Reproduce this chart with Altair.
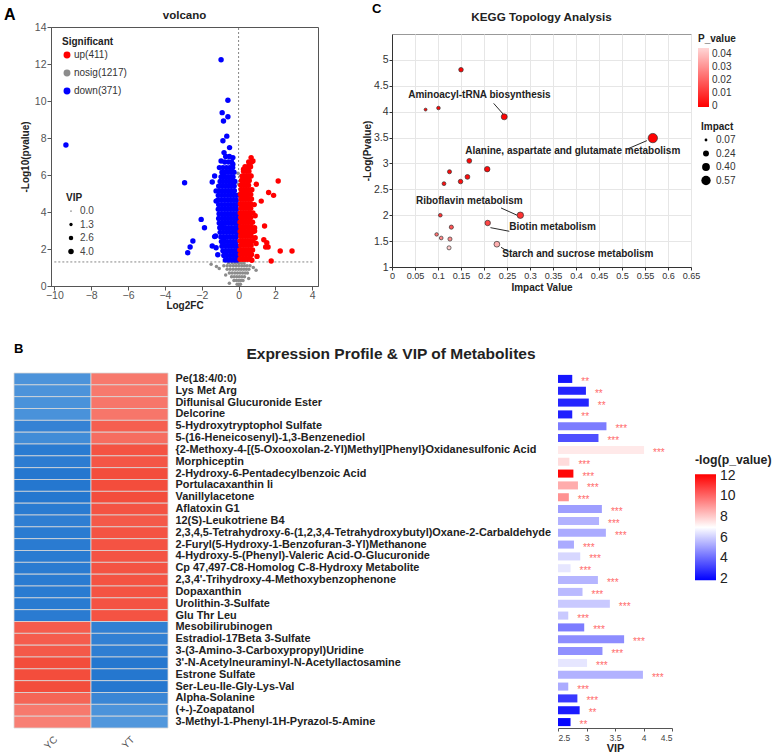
import altair as alt
import pandas as pd

FONT = "Liberation Sans"
INK = "#222222"

# ============ A: volcano plot ============
up_label, nosig_label, down_label = "up(411)", "nosig(1217)", "down(371)"

up_points = [
    (0.08, 1.45), (0.22, 1.45), (0.36, 1.45), (0.50, 1.45), (0.64, 1.45),
    (0.10, 1.70), (0.25, 1.70), (0.40, 1.70), (0.55, 1.70), (0.70, 1.70),
    (0.07, 1.95), (0.20, 1.95), (0.34, 1.95), (0.48, 1.95), (0.62, 1.95), (0.76, 1.95),
    (0.12, 2.20), (0.26, 2.20), (0.40, 2.20), (0.54, 2.20), (0.68, 2.20),
    (0.08, 2.45), (0.22, 2.45), (0.36, 2.45), (0.50, 2.45), (0.64, 2.45), (0.78, 2.45),
    (0.12, 2.70), (0.26, 2.70), (0.40, 2.70), (0.54, 2.70), (0.68, 2.70),
    (0.09, 2.95), (0.23, 2.95), (0.37, 2.95), (0.51, 2.95), (0.65, 2.95), (0.80, 2.95),
    (0.12, 3.20), (0.26, 3.20), (0.40, 3.20), (0.54, 3.20), (0.68, 3.20),
    (0.08, 3.45), (0.22, 3.45), (0.36, 3.45), (0.50, 3.45), (0.64, 3.45), (0.76, 3.45),
    (0.12, 3.70), (0.26, 3.70), (0.40, 3.70), (0.54, 3.70), (0.66, 3.70),
    (0.09, 3.95), (0.23, 3.95), (0.37, 3.95), (0.51, 3.95), (0.64, 3.95), (0.78, 3.95),
    (0.12, 4.20), (0.26, 4.20), (0.40, 4.20), (0.54, 4.20), (0.66, 4.20),
    (0.10, 4.45), (0.24, 4.45), (0.38, 4.45), (0.52, 4.45), (0.65, 4.45),
    (0.13, 4.70), (0.27, 4.70), (0.41, 4.70), (0.55, 4.70), (0.70, 4.70),
    (0.10, 4.95), (0.24, 4.95), (0.38, 4.95), (0.52, 4.95), (0.66, 4.95),
    (0.14, 5.20), (0.28, 5.20), (0.42, 5.20), (0.56, 5.20), (0.72, 5.20),
    (0.12, 5.45), (0.26, 5.45), (0.40, 5.45), (0.54, 5.45),
    (0.16, 5.70), (0.30, 5.70), (0.44, 5.70), (0.58, 5.70),
    (0.20, 5.95), (0.34, 5.95), (0.48, 5.95), (0.62, 5.95),
    (0.27, 6.20), (0.42, 6.20), (0.56, 6.20),
    (0.35, 6.45), (0.50, 6.45), (0.65, 6.45),
    (0.55, 6.70), (0.70, 6.70),
    # scattered up-regulated features
    (0.68, 6.94), (0.78, 6.76), (0.60, 6.58), (0.50, 6.40), (0.27, 6.31),
    (0.68, 5.95), (0.96, 5.50), (2.15, 5.68), (1.63, 5.05), (1.90, 4.90),
    (1.23, 4.59), (1.41, 3.24), (0.87, 2.97), (0.90, 2.61), (1.37, 2.50),
    (1.53, 2.34), (1.47, 2.11), (1.60, 2.11), (2.26, 1.89), (2.90, 1.89),
    (1.77, 1.35), (0.72, 1.39), (0.87, 3.15), (0.85, 4.40), (0.90, 3.80),
    (0.95, 2.30), (1.00, 1.60),
]

down_points = [
    (-0.72, 1.40), (-0.55, 1.40), (-0.38, 1.40), (-0.22, 1.40), (-0.08, 1.40),
    (-0.80, 1.65), (-0.62, 1.65), (-0.45, 1.65), (-0.28, 1.65), (-0.12, 1.65),
    (-0.85, 1.90), (-0.68, 1.90), (-0.50, 1.90), (-0.33, 1.90), (-0.17, 1.90), (-0.05, 1.90),
    (-0.90, 2.15), (-0.72, 2.15), (-0.56, 2.15), (-0.40, 2.15), (-0.24, 2.15), (-0.09, 2.15),
    (-0.93, 2.40), (-0.77, 2.40), (-0.60, 2.40), (-0.44, 2.40), (-0.28, 2.40), (-0.12, 2.40),
    (-0.96, 2.65), (-0.80, 2.65), (-0.63, 2.65), (-0.46, 2.65), (-0.30, 2.65), (-0.14, 2.65),
    (-1.00, 2.90), (-0.83, 2.90), (-0.66, 2.90), (-0.50, 2.90), (-0.33, 2.90), (-0.17, 2.90), (-0.06, 2.90),
    (-1.02, 3.15), (-0.86, 3.15), (-0.70, 3.15), (-0.53, 3.15), (-0.37, 3.15), (-0.20, 3.15), (-0.07, 3.15),
    (-1.05, 3.40), (-0.88, 3.40), (-0.72, 3.40), (-0.55, 3.40), (-0.39, 3.40), (-0.23, 3.40), (-0.09, 3.40),
    (-1.08, 3.65), (-0.90, 3.65), (-0.74, 3.65), (-0.58, 3.65), (-0.42, 3.65), (-0.26, 3.65), (-0.10, 3.65),
    (-1.06, 3.90), (-0.89, 3.90), (-0.72, 3.90), (-0.56, 3.90), (-0.40, 3.90), (-0.24, 3.90), (-0.08, 3.90),
    (-1.10, 4.15), (-0.93, 4.15), (-0.76, 4.15), (-0.60, 4.15), (-0.44, 4.15), (-0.28, 4.15), (-0.12, 4.15),
    (-1.08, 4.40), (-0.91, 4.40), (-0.74, 4.40), (-0.57, 4.40), (-0.41, 4.40), (-0.25, 4.40), (-0.10, 4.40),
    (-1.12, 4.65), (-0.95, 4.65), (-0.78, 4.65), (-0.61, 4.65), (-0.45, 4.65), (-0.29, 4.65), (-0.13, 4.65),
    (-1.10, 4.90), (-0.92, 4.90), (-0.75, 4.90), (-0.58, 4.90), (-0.42, 4.90), (-0.26, 4.90), (-0.11, 4.90),
    (-1.05, 5.15), (-0.88, 5.15), (-0.71, 5.15), (-0.55, 5.15), (-0.39, 5.15), (-0.23, 5.15),
    (-1.08, 5.40), (-0.90, 5.40), (-0.73, 5.40), (-0.56, 5.40), (-0.40, 5.40), (-0.24, 5.40),
    (-1.00, 5.65), (-0.84, 5.65), (-0.67, 5.65), (-0.51, 5.65), (-0.35, 5.65), (-0.20, 5.65),
    (-0.95, 5.90), (-0.78, 5.90), (-0.62, 5.90), (-0.46, 5.90), (-0.30, 5.90),
    (-0.90, 6.15), (-0.72, 6.15), (-0.56, 6.15), (-0.40, 6.15), (-0.25, 6.15),
    (-0.85, 6.40), (-0.66, 6.40), (-0.48, 6.40), (-0.32, 6.40),
    (-0.75, 6.70), (-0.55, 6.70), (-0.38, 6.70),
    (-0.70, 7.00), (-0.50, 7.00),
    # scattered down-regulated features
    (-0.95, 12.23), (-0.58, 10.04), (-0.89, 9.37), (-0.58, 9.15), (-0.82, 8.92),
    (-9.37, 7.62), (-0.64, 8.10), (-0.85, 7.85), (-0.49, 7.48), (-0.79, 7.21),
    (-0.31, 6.94), (-0.95, 6.76), (-1.04, 6.40), (-0.31, 6.58), (-0.85, 6.04),
    (-1.30, 5.95), (-2.93, 5.58), (-1.43, 5.62), (-1.22, 5.14), (-1.22, 4.59),
    (-2.03, 3.60), (-1.85, 3.15), (-2.48, 2.43), (-2.63, 2.11), (-2.76, 1.80),
    (-0.95, 3.24), (-1.30, 2.67), (-1.25, 2.70), (-1.43, 2.16), (-1.22, 2.07),
    (-1.13, 1.69), (-0.89, 3.30), (-0.79, 2.43), (-0.73, 1.69),
]

nosig_points = [
    (-0.08, 0.10), (0.02, 0.10), (0.10, 0.10),
    (-0.25, 0.30), (-0.12, 0.30), (0.00, 0.30), (0.12, 0.30), (0.24, 0.30),
    (-0.38, 0.50), (-0.24, 0.50), (-0.10, 0.50), (0.04, 0.50), (0.18, 0.50), (0.32, 0.50),
    (-0.50, 0.70), (-0.35, 0.70), (-0.20, 0.70), (-0.06, 0.70), (0.08, 0.70), (0.22, 0.70), (0.36, 0.70), (0.48, 0.70),
    (-0.62, 0.90), (-0.46, 0.90), (-0.30, 0.90), (-0.15, 0.90), (0.00, 0.90), (0.14, 0.90), (0.28, 0.90), (0.42, 0.90), (0.56, 0.90),
    (-0.80, 1.10), (-0.62, 1.10), (-0.45, 1.10), (-0.28, 1.10), (-0.12, 1.10), (0.03, 1.10), (0.18, 1.10), (0.32, 1.10), (0.46, 1.10), (0.62, 1.10),
    (-0.55, 1.25), (-0.35, 1.25), (-0.18, 1.25), (0.00, 1.25), (0.15, 1.25), (0.30, 1.25),
    (-1.49, 1.17), (-1.05, 0.95), (-1.20, 1.05), (0.80, 1.00), (0.95, 0.85),
    (-0.50, 0.15), (0.55, 0.40), (-0.70, 0.60),
    (0.00, 1.60), (0.02, 2.10), (-0.02, 2.70), (0.03, 3.30), (0.00, 3.90),
    (-0.02, 4.50), (0.02, 5.00), (0.00, 5.50), (0.10, 5.95), (-0.03, 6.10),
]

up_vip, down_vip, nosig_vip = 3.9, 3.9, 1.5
vip_legend_values = [0.0, 1.3, 2.6, 4.0]
p_cut = 1.3  # -log10(0.05)

volcano_rows = []
for label, pts, vip in [(nosig_label, nosig_points, nosig_vip),
                        (down_label, down_points, down_vip),
                        (up_label, up_points, up_vip)]:
    for fc, lp in pts:
        volcano_rows.append({"group": label, "log2fc": fc, "logp": lp, "vip": vip})
volcano_df = pd.DataFrame(volcano_rows)

xs_a = alt.Scale(domain=[-10.18, 4.31], nice=False, zero=False)
ys_a = alt.Scale(domain=[0, 14], nice=False, zero=False)

axis_a = dict(grid=False, labelFontSize=10.5, labelColor="#555555", tickColor="#555555",
              domainColor="#555555", tickSize=4, titleFontSize=10, titleFontWeight="bold",
              titleColor=INK)
x_axis_a = alt.Axis(title="Log2FC", values=[-10, -8, -6, -4, -2, 0, 2, 4],
                    labelPadding=0, titlePadding=0, **axis_a)
y_axis_a = alt.Axis(title="-Log10(pvalue)", values=[0, 2, 4, 6, 8, 10, 12, 14],
                    labelPadding=1, titlePadding=4, **axis_a)

cut_h = alt.Chart(pd.DataFrame({"y": [p_cut], "x": [-10], "x2": [4]})).mark_rule(
    strokeDash=[2, 2], color="#777777", strokeWidth=0.9
).encode(x=alt.X("x:Q", scale=xs_a, axis=x_axis_a), x2="x2:Q",
         y=alt.Y("y:Q", scale=ys_a, axis=y_axis_a))

cut_v = alt.Chart(pd.DataFrame({"x": [0], "y": [0], "y2": [14]})).mark_rule(
    strokeDash=[2, 2], color="#777777", strokeWidth=0.9
).encode(x=alt.X("x:Q", scale=xs_a, axis=x_axis_a),
         y=alt.Y("y:Q", scale=ys_a, axis=y_axis_a), y2="y2:Q")

dots = alt.Chart(volcano_df).mark_circle(opacity=1).encode(
    x=alt.X("log2fc:Q", scale=xs_a, axis=x_axis_a),
    y=alt.Y("logp:Q", scale=ys_a, axis=y_axis_a),
    color=alt.Color("group:N",
                    scale=alt.Scale(domain=[up_label, nosig_label, down_label],
                                    range=["#ff0000", "#8c8c8c", "#0000ff"]),
                    legend=alt.Legend(title="Significant", orient="none", legendX=11, legendY=10,
                                      titleFontSize=10, titleFontWeight="bold", titleColor=INK,
                                      labelFontSize=10, labelColor="#333333", symbolType="circle",
                                      symbolSize=48, symbolOpacity=1, symbolStrokeWidth=0,
                                      rowPadding=8, labelOffset=2, titlePadding=3, padding=0)),
    size=alt.Size("vip:Q", scale=alt.Scale(domain=[0, 4], range=[1.5, 30], zero=False),
                  legend=alt.Legend(title="VIP", orient="none", legendX=15, legendY=166,
                                    values=vip_legend_values, format=".1f",
                                    titleFontSize=10, titleFontWeight="bold", titleColor=INK,
                                    labelFontSize=10, labelColor="#444444", symbolType="circle",
                                    symbolFillColor="#000000", symbolStrokeColor="#000000",
                                    symbolStrokeWidth=0, symbolOpacity=1,
                                    rowPadding=3.5, labelOffset=4, titlePadding=3, padding=0)),
)


def caption(text, x, y, size, align="left", color="#000000"):
    return alt.Chart(pd.DataFrame({"caption": [text]})).mark_text(
        align=align, baseline="alphabetic", fontSize=size, fontWeight="bold", color=color
    ).encode(text="caption:N", x=alt.value(x), y=alt.value(y))


volcano = alt.layer(
    cut_h, cut_v, dots, caption("volcano", 133.5, -8, 11.5, align="center", color=INK)
).properties(width=267, height=259, view=alt.ViewBackground(stroke="#555555", strokeWidth=1))

# small cell carrying the panel letter, left of the volcano plot
letter_a = caption("A", -10, -7, 16).properties(
    width=1, height=1, view=alt.ViewBackground(stroke=None))

# ============ C: KEGG topology bubbles ============
kegg_impact = [0.150, 0.073, 0.101, 0.244, 0.567, 0.168, 0.207, 0.125, 0.164, 0.149,
               0.113, 0.279, 0.105, 0.208, 0.129, 0.097, 0.107, 0.126, 0.124, 0.228]
kegg_neglogp = [4.81, 4.04, 4.07, 3.90, 3.49, 3.05, 2.89, 2.84, 2.74, 2.65,
                2.61, 2.00, 2.00, 1.85, 1.77, 1.63, 1.56, 1.54, 1.37, 1.44]
kegg_x_ticks = [0, 0.05, 0.1, 0.15, 0.2, 0.25, 0.3, 0.35, 0.4, 0.45, 0.5, 0.55, 0.6, 0.65]
kegg_y_ticks = [1, 1.5, 2, 2.5, 3, 3.5, 4, 4.5, 5]
impact_legend_values = [0.07, 0.24, 0.40, 0.57]
pvalue_legend_values = [0, 0.01, 0.02, 0.03, 0.04]

pathway_names = ["Aminoacyl-tRNA biosynthesis",
                 "Alanine, aspartate and glutamate metabolism",
                 "Riboflavin metabolism",
                 "Biotin metabolism",
                 "Starch and sucrose metabolism"]
pathway_label_x = [0.190, 0.393, 0.168, 0.349, 0.404]
pathway_label_y = [4.33, 3.25, 2.27, 1.77, 1.25]
leader_x1 = [0.221, 0.512, 0.237, 0.214, 0.237]
leader_y1 = [4.16, 3.28, 2.14, 1.76, 1.38]
leader_x2 = [0.243, 0.554, 0.272, 0.255, 0.254]
leader_y2 = [3.94, 3.44, 2.00, 1.69, 1.29]

kegg_df = pd.DataFrame({"impact": kegg_impact, "neglogp": kegg_neglogp})
kegg_df["p_value"] = 10 ** (-kegg_df["neglogp"])

xs_c = alt.Scale(domain=[0, 0.65], nice=False, zero=False)
ys_c = alt.Scale(domain=[1, 5.5], nice=False, zero=False)

axis_c = dict(grid=True, gridColor="#e6e6e6", labelColor="#333333",
              tickColor="#333333", domainColor="#333333", tickSize=3, format="~g",
              titleFontSize=10, titleFontWeight="bold", titleColor=INK,
              labelPadding=1, labelOverlap=False, labelFlush=False)
x_axis_c = alt.Axis(title="Impact Value", values=kegg_x_ticks, labelFontSize=9.1,
                    titlePadding=2, **axis_c)
y_axis_c = alt.Axis(title="-Log(Pvalue)", values=kegg_y_ticks, labelFontSize=10.5,
                    titlePadding=1, **axis_c)

bubbles = alt.Chart(kegg_df).mark_circle(opacity=1, stroke="#333333", strokeWidth=0.7).encode(
    x=alt.X("impact:Q", scale=xs_c, axis=x_axis_c),
    y=alt.Y("neglogp:Q", scale=ys_c, axis=y_axis_c),
    color=alt.Color("p_value:Q",
                    scale=alt.Scale(domain=[-0.0006, 0.0444], range=["#ff0000", "#ffd6d6"],
                                    interpolate="rgb"),
                    legend=alt.Legend(title="P_value", orient="none", legendX=306, legendY=0,
                                      direction="vertical", values=pvalue_legend_values, format="~g",
                                      gradientLength=59, gradientThickness=11,
                                      titleFontSize=10, titleFontWeight="bold", titleColor=INK,
                                      labelFontSize=10, labelColor="#333333", labelOffset=3,
                                      titlePadding=4, padding=0)),
    size=alt.Size("impact:Q", scale=alt.Scale(domain=[0.07, 0.57], range=[8, 88], zero=False),
                  legend=alt.Legend(title="Impact", orient="none", legendX=309, legendY=88,
                                    values=impact_legend_values, format=".2f",
                                    titleFontSize=10, titleFontWeight="bold", titleColor=INK,
                                    labelFontSize=10, labelColor="#333333", symbolType="circle",
                                    symbolFillColor="#000000", symbolStrokeColor="#000000",
                                    symbolStrokeWidth=0, symbolOpacity=1,
                                    rowPadding=3.5, labelOffset=5, titlePadding=3, padding=0)),
)

leader_df = pd.DataFrame({"x": leader_x1, "y": leader_y1, "x2": leader_x2, "y2": leader_y2})
leaders = alt.Chart(leader_df).mark_rule(color="#111111", strokeWidth=0.9).encode(
    x=alt.X("x:Q", scale=xs_c, axis=x_axis_c), y=alt.Y("y:Q", scale=ys_c, axis=y_axis_c),
    x2="x2:Q", y2="y2:Q")

label_df = pd.DataFrame({"name": pathway_names, "x": pathway_label_x, "y": pathway_label_y})
pathway_text = alt.Chart(label_df).mark_text(
    fontSize=10, fontWeight="bold", color=INK, align="center", baseline="middle"
).encode(x=alt.X("x:Q", scale=xs_c, axis=x_axis_c), y=alt.Y("y:Q", scale=ys_c, axis=y_axis_c),
         text="name:N")

kegg = alt.layer(leaders, bubbles, pathway_text).properties(
    width=299, height=233, view=alt.ViewBackground(stroke="#999999", strokeWidth=1))

# header cell above the bubble plot: panel letter and title
kegg_header = alt.layer(
    caption("KEGG Topology Analysis", 149.5, -6, 11.7, align="center", color=INK),
    caption("C", -20, -14, 13),
).properties(width=299, height=1, view=alt.ViewBackground(stroke=None))

# ============ B: expression heatmap + VIP bars ============
metabolites = [
    "Pe(18:4/0:0)",
    "Lys Met Arg",
    "Diflunisal Glucuronide Ester",
    "Delcorine",
    "5-Hydroxytryptophol Sulfate",
    "5-(16-Heneicosenyl)-1,3-Benzenediol",
    "{2-Methoxy-4-[(5-Oxooxolan-2-Yl)Methyl]Phenyl}Oxidanesulfonic Acid",
    "Morphiceptin",
    "2-Hydroxy-6-Pentadecylbenzoic Acid",
    "Portulacaxanthin Ii",
    "Vanillylacetone",
    "Aflatoxin G1",
    "12(S)-Leukotriene B4",
    "2,3,4,5-Tetrahydroxy-6-(1,2,3,4-Tetrahydroxybutyl)Oxane-2-Carbaldehyde",
    "2-Furyl(5-Hydroxy-1-Benzofuran-3-Yl)Methanone",
    "4-Hydroxy-5-(Phenyl)-Valeric Acid-O-Glucuronide",
    "Cp 47,497-C8-Homolog C-8-Hydroxy Metabolite",
    "2,3,4'-Trihydroxy-4-Methoxybenzophenone",
    "Dopaxanthin",
    "Urolithin-3-Sulfate",
    "Glu Thr Leu",
    "Mesobilirubinogen",
    "Estradiol-17Beta 3-Sulfate",
    "3-(3-Amino-3-Carboxypropyl)Uridine",
    "3'-N-Acetylneuraminyl-N-Acetyllactosamine",
    "Estrone Sulfate",
    "Ser-Leu-Ile-Gly-Lys-Val",
    "Alpha-Solanine",
    "(+-)-Zoapatanol",
    "3-Methyl-1-Phenyl-1H-Pyrazol-5-Amine",
]
groups = ["YC", "YT"]
yc_scaled = [-0.62, -0.62, -0.64, -0.64, -0.80, -0.70, -0.88, -0.86, -0.92, -0.92,
             -0.92, -0.88, -0.84, -0.88, -0.88, -0.88, -0.88, -0.88, -0.88, -0.88,
             -0.88, 0.82, 0.82, 0.84, 0.92, 0.92, 0.92, 0.76, 0.62, 0.58]
yt_scaled = [0.62, 0.62, 0.64, 0.64, 0.80, 0.70, 0.88, 0.86, 0.92, 0.92,
             0.92, 0.88, 0.84, 0.88, 0.88, 0.88, 0.88, 0.88, 0.88, 0.88,
             0.88, -0.82, -0.82, -0.84, -0.92, -0.92, -0.92, -0.76, -0.62, -0.58]
vip_values = [2.75, 2.99, 3.04, 2.75, 3.35, 3.21, 4.01, 2.70, 2.77, 2.85,
              2.69, 3.27, 3.22, 3.34, 2.78, 2.89, 2.72, 3.20, 2.93, 3.41,
              2.68, 2.96, 3.66, 3.28, 3.01, 3.99, 2.68, 2.84, 2.88, 2.72]
neglogp_values = [2.3, 2.6, 2.6, 2.5, 4.35, 3.45, 7.45, 7.7, 12.0, 8.67,
                  9.2, 5.05, 5.45, 5.3, 5.3, 6.2, 6.5, 5.5, 5.6, 5.9,
                  5.9, 4.35, 4.7, 4.75, 6.5, 5.45, 5.3, 3.0, 2.4, 2.0]
stars = ["**", "**", "**", "**", "***", "***", "***", "***", "***", "***",
         "***", "***", "***", "***", "***", "***", "***", "***", "***", "***",
         "***", "***", "***", "***", "***", "***", "***", "***", "**", "**"]
vip_ticks = [2.5, 3, 3.5, 4, 4.5]
neglogp_legend_values = [2, 4, 6, 8, 10, 12]

heat_df = pd.DataFrame({
    "metabolite": metabolites * 2,
    "group": [groups[0]] * len(metabolites) + [groups[1]] * len(metabolites),
    "scaled": yc_scaled + yt_scaled,
})

cells = alt.Chart(heat_df).mark_rect(stroke="#d8d8d8", strokeWidth=0.8).encode(
    x=alt.X("group:N", sort=groups,
            axis=alt.Axis(title=None, labelAngle=-45, labelFontSize=10, labelColor="#555555",
                          ticks=False, domain=False, labelPadding=6)),
    y=alt.Y("metabolite:N", sort=metabolites,
            axis=alt.Axis(title=None, orient="right", labelFontSize=10.9, labelFontWeight="bold",
                          labelColor=INK, ticks=False, domain=False, labelPadding=7, labelLimit=1000)),
    color=alt.Color("scaled:Q",
                    scale=alt.Scale(domain=[-1, -0.5, 0.5, 1],
                                    range=["#1b6fcc", "#5b9fdf", "#f98b81", "#f2412f"],
                                    interpolate="rgb"),
                    legend=None),
)

heatmap = alt.layer(
    cells,
    caption("Expression Profile & VIP of Metabolites", 377, -14, 15.5, align="center", color=INK),
    caption("B", 0, -20, 13),
).properties(width=154, height=355, view=alt.ViewBackground(stroke=None))

bars_df = pd.DataFrame({"metabolite": metabolites, "vip": vip_values,
                        "neglogp": neglogp_values, "stars": stars})
bar_y = alt.Y("metabolite:N", sort=metabolites, axis=None,
              scale=alt.Scale(paddingInner=0.32, paddingOuter=0.16))
xs_b = alt.Scale(domain=[2.5, 4.5], nice=False, zero=False)
x_axis_b = alt.Axis(title="VIP", values=vip_ticks, format="~g", grid=False,
                    labelFontSize=8.5, labelColor="#444444", tickColor="#555555",
                    domainColor="#555555", tickSize=3, labelPadding=2,
                    titleFontSize=11, titleFontWeight="bold", titleColor=INK, titlePadding=1)

vip_bars = alt.Chart(bars_df).mark_bar().encode(
    x=alt.X("vip:Q", scale=xs_b, axis=x_axis_b),
    x2=alt.X2(datum=2.5),
    y=bar_y,
    color=alt.Color("neglogp:Q",
                    scale=alt.Scale(domain=[1.85, 7, 12.15], range=["#0000ff", "#ffffff", "#ff0000"],
                                    interpolate="rgb"),
                    legend=alt.Legend(title="-log(p_value)", orient="none", legendX=137, legendY=81,
                                      direction="vertical", values=neglogp_legend_values,
                                      gradientLength=106, gradientThickness=21,
                                      titleFontSize=12.3, titleFontWeight="bold", titleColor=INK,
                                      labelFontSize=14, labelColor=INK, labelOffset=4,
                                      titlePadding=8, padding=0)),
)

star_marks = alt.Chart(bars_df).mark_text(
    align="left", baseline="middle", dx=9, dy=3, color="#ff6b6b", fontSize=10
).encode(x=alt.X("vip:Q", scale=xs_b, axis=x_axis_b), y=bar_y, text="stars:N")

vip_panel = alt.layer(vip_bars, star_marks).properties(
    width=114, height=355, view=alt.ViewBackground(stroke=None))

# ============ layout ============
independent = dict(color="independent", size="independent")

panel_a = alt.concat(letter_a, volcano, columns=2, align="none", spacing=3).resolve_scale(**independent)
panel_c = alt.concat(kegg_header, kegg, columns=1, align="none", spacing=5).resolve_scale(**independent)
top_row = alt.concat(panel_a, panel_c, columns=2, align="none", spacing=42).resolve_scale(**independent)
bottom_row = alt.hconcat(heatmap, vip_panel, spacing=6).resolve_scale(**independent)

chart = alt.concat(top_row, bottom_row, columns=1, align="none", spacing=32).resolve_scale(
    **independent
).properties(
    padding={"left": 4, "top": 3, "right": 0, "bottom": 0}
).configure(font=FONT).configure_view(stroke=None)

chart.save("out.html", embed_options={"renderer": "svg", "actions": False})
